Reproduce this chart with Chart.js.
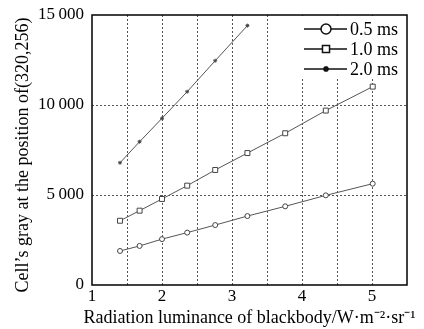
<!DOCTYPE html>
<html>
<head>
<meta charset="utf-8">
<script src="https://cdn.jsdelivr.net/npm/chart.js@4/dist/chart.umd.min.js"></script>
<style>
  html, body { margin: 0; padding: 0; background: #fff; }
  #wrap { width: 424px; height: 329px; }
</style>
</head>
<body>
<div id="wrap"><canvas id="canvasChart"></canvas></div>
<script>
// radiation luminance (x) and cell gray values for each integration time
const radiance = [1.40, 1.68, 2.00, 2.36, 2.76, 3.22, 3.76, 4.34, 5.01];
const gray05 = [1890, 2170, 2550, 2910, 3330, 3830, 4370, 4980, 5630];
const gray10 = [3570, 4130, 4780, 5520, 6390, 7330, 8430, 9690, 11020];
const gray20 = [6790, 7960, 9260, 10740, 12460, 14410];
const seriesNames = ['0.5 ms', '1.0 ms', '2.0 ms'];
const yTickLabels = { 0: '0', 5000: '5\u2009000', 10000: '10\u2009000', 15000: '15\u2009000' };
const xTitle = 'Radiation luminance of blackbody/W\u00b7m\u207b\u00b2\u00b7sr\u207b\u00b9';
const yTitle = 'Cell\u2019s gray at the position of(320,256)';

const serif = "'Liberation Serif', 'Times New Roman', serif";

const toPoints = (ys) => ys.map((y, i) => ({x: radiance[i], y: y}));

// full box round the plot + axis titles (chart.js squeezes scale titles to the axis length)
const frame = {
  id: 'frame',
  afterDraw(chart) {
    const c = chart.ctx, a = chart.chartArea;
    c.save();
    c.strokeStyle = '#000';
    c.lineWidth = 1.5;
    c.strokeRect(a.left, a.top, a.right - a.left, a.bottom - a.top);
    c.fillStyle = '#000';
    c.font = '18px ' + serif;
    c.textAlign = 'center';
    c.textBaseline = 'alphabetic';
    c.fillText(xTitle, (a.left + a.right) / 2, chart.height - 6);
    c.translate(28, (a.top + a.bottom) / 2 + 5);
    c.rotate(-Math.PI / 2);
    c.fillText(yTitle, 0, 0);
    c.restore();
  }
};

const legendBox = {
  id: 'legendBox',
  afterDatasetsDraw(chart) {
    const c = chart.ctx, a = chart.chartArea;
    c.save();
    c.fillStyle = '#fff';
    c.fillRect(a.right - 107, a.top + 1, 106, 62);
    const rowY = [a.top + 14, a.top + 34, a.top + 54];
    chart.data.datasets.forEach((ds, i) => {
      const y = rowY[i];
      c.strokeStyle = '#111';
      c.lineWidth = 1.5;
      c.beginPath();
      c.moveTo(a.right - 103, y);
      c.lineTo(a.right - 60, y);
      c.stroke();
      c.fillStyle = '#fff';
      c.strokeStyle = '#111';
      Chart.helpers.drawPoint(c, {
        pointStyle: ds.pointStyle,
        radius: i === 2 ? 3 : 5,
        rotation: 0,
        borderWidth: 1.5
      }, a.right - 81, y);
      c.fillStyle = '#000';
      c.font = '18px ' + serif;
      c.textBaseline = 'middle';
      c.fillText(ds.label, a.right - 57, y + 1);
    });
    c.restore();
  }
};

const data = {
  datasets: [{
    label: seriesNames[0],
    data: toPoints(gray05),
    pointStyle: 'circle',
    pointRadius: 2.5,
  }, {
    label: seriesNames[1],
    data: toPoints(gray10),
    pointStyle: 'rect',
    pointRadius: 3.5,
  }, {
    label: seriesNames[2],
    data: toPoints(gray20),
    pointStyle: 'star',
    pointRadius: 2,
  }].map(ds => Object.assign(ds, {
    borderColor: '#555',
    borderWidth: 1,
    pointBorderColor: '#444',
    pointBackgroundColor: '#fff',
    pointBorderWidth: 1,
    tension: 0
  }))
};

let config = {
  type: 'line',
  data: data,
  plugins: [frame, legendBox],
  options: {
    animation: false,
    responsive: true,
    maintainAspectRatio: false,
    layout: { padding: { left: 9, right: 17, top: 15, bottom: 0 } },
    plugins: {
      legend: { display: false },
      tooltip: { enabled: false }
    },
    scales: {
      x: {
        type: 'linear',
        min: 1,
        max: 5.5,
        afterFit: (s) => { s.height = 44; s.paddingLeft = 0; s.paddingRight = 0; },
        ticks: {
          stepSize: 0.5,
          autoSkip: false,
          maxRotation: 0,
          padding: 1,
          color: '#000',
          font: { family: serif, size: 17 },
          callback: (v) => (Number.isInteger(v) ? String(v) : '')
        },
        grid: {
          color: (ctx) => (ctx.tick && (ctx.tick.value === 1 || ctx.tick.value === 5.5) ? 'rgba(0,0,0,0)' : '#555'),
          tickLength: 0,
          drawTicks: false
        },
        border: { display: false, dash: [2, 2] },
        title: { display: false }
      },
      y: {
        min: 0,
        max: 15000,
        afterFit: (s) => { s.width = 83; s.paddingTop = 0; s.paddingBottom = 0; },
        ticks: {
          stepSize: 5000,
          padding: 8,
          color: '#000',
          font: { family: serif, size: 17 },
          callback: (v) => yTickLabels[v]
        },
        grid: {
          color: (ctx) => (ctx.tick && (ctx.tick.value === 0 || ctx.tick.value === 15000) ? 'rgba(0,0,0,0)' : '#555'),
          drawTicks: false
        },
        border: { display: false, dash: [2, 2] },
        title: { display: false }
      }
    }
  }
};

let ctx = document.getElementById('canvasChart').getContext('2d');
let canvasChart = new Chart(ctx, config);
</script>
</body>
</html>
